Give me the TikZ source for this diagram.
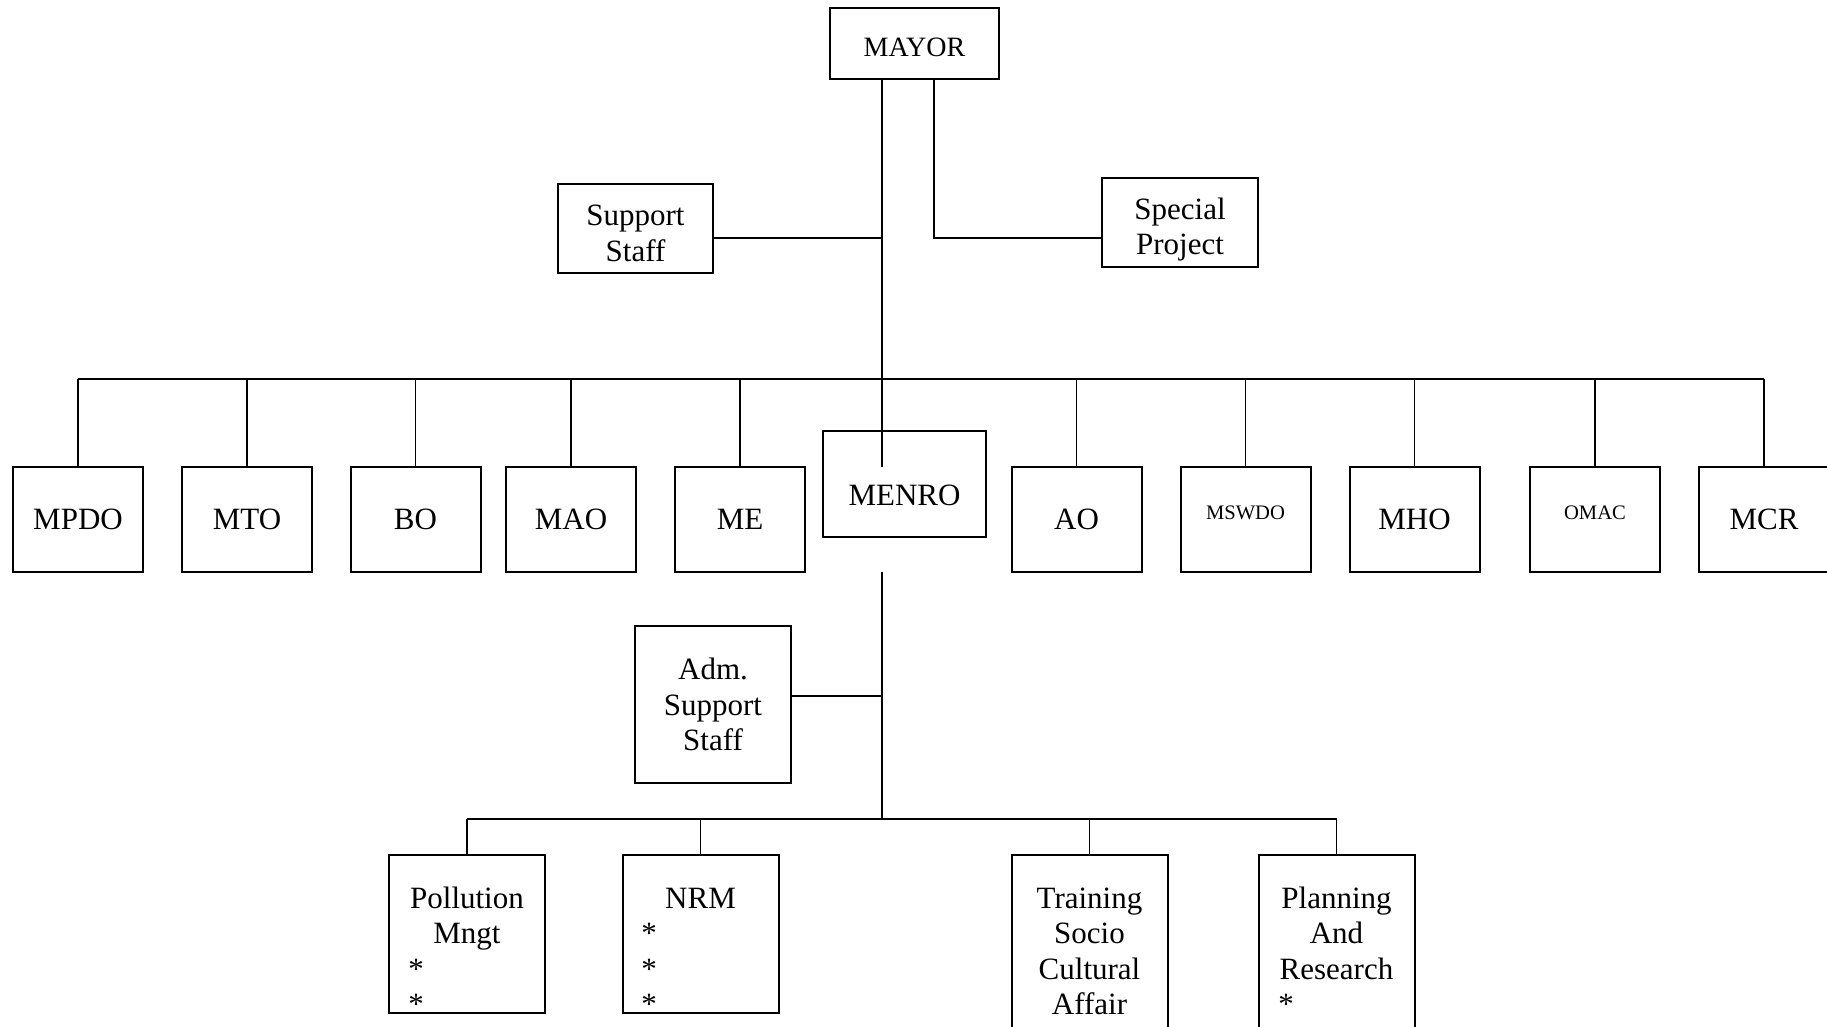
\documentclass[tikz,border=0pt]{standalone}
\usepackage{fontspec}
\setmainfont{Liberation Serif}
\begin{document}
\begin{tikzpicture}[x=0.5pt,y=-0.5pt,
  main node/.style={rectangle,draw,line width=1pt,inner sep=0.,outer sep=0.,align=center,font=\fontsize{15.5}{17.75}\selectfont},
  office node/.style={main node,minimum width=65pt,minimum height=52.5pt},
  unit node/.style={main node,minimum width=78pt,minimum height=79pt},
  text node/.style={inner sep=0.,outer sep=0.,align=center,font=\fontsize{15.5}{17.75}\selectfont},
  small text/.style={inner sep=0.,font=\fontsize{10.3}{12}\selectfont},
  link/.style={line width=0.9pt}]
  \clip (0,0) rectangle (1827,1027);
  % top level
  \node[main node,minimum width=84.5pt,minimum height=35.5pt] (mayor) at (914.5,43.5) {};
  \node[inner sep=0.,font=\fontsize{14}{16}\selectfont] (mayorT) at (914.5,47.5) {MAYOR};
  \node[main node,minimum width=77.5pt,minimum height=44.5pt] (support) at (635.5,228.5) {};
  \node[text node] (supportT) at (635.5,233.5) {Support\\Staff};
  \node[main node,minimum width=78pt,minimum height=44.5pt] (special) at (1180,222.5) {};
  \node[text node] (specialT) at (1180,229.5) {Special\\Project};
  % offices
  \node[office node] (mpdo) at (78,519.5) {MPDO};
  \node[office node] (mto) at (247,519.5) {MTO};
  \node[office node] (bo) at (415.5,519.5) {BO};
  \node[office node] (mao) at (571,519.5) {MAO};
  \node[office node] (me) at (740,519.5) {ME};
  \node[main node,minimum width=81.5pt,minimum height=53pt] (menro) at (904.5,484) {};
  \node[inner sep=0.,font=\fontsize{15.5}{17.75}\selectfont] (menroT) at (904.5,495) {MENRO};
  \node[office node] (ao) at (1076.5,519.5) {AO};
  \node[office node] (mswdo) at (1245.5,519.5) {};
  \node[small text] (mswdoT) at (1245.5,512.5) {MSWDO};
  \node[office node] (mho) at (1414.5,519.5) {MHO};
  \node[office node] (omac) at (1595,519.5) {};
  \node[small text] (omacT) at (1595,512.5) {OMAC};
  \node[office node] (mcr) at (1764,519.5) {MCR};
  % MENRO units
  \node[unit node,minimum height=78.5pt] (adm) at (713,704.5) {Adm.\\Support\\Staff};
  \node[unit node] (poll) at (467,934) {};
  \node[unit node] (nrm) at (700.5,934) {};
  \node[unit node,minimum height=110pt] (train) at (1089.5,965) {};
  \node[unit node,minimum height=110pt] (plan) at (1336.5,965) {};
  % unit texts (base = last line)
  \node[text node,anchor=base] (pollT) at (467,943.5) {Pollution\\Mngt};
  \node[text node,anchor=base] (pollS) at (416,1014.5) {*\\*};
  \node[text node,anchor=base] (nrmT) at (700.5,908) {NRM};
  \node[text node,anchor=base] (nrmS) at (649,1014.5) {*\\*\\*};
  \node[text node,anchor=base] (trainT) at (1089.5,1014.5) {Training\\Socio\\Cultural\\Affair};
  \node[text node,anchor=base] (planT) at (1336.5,979) {Planning\\And\\Research};
  \node[text node,anchor=base] (planS) at (1286,1014.5) {*};
  % connectors
  \coordinate (staffJ) at (882,238);
  \coordinate (specJ) at (934,238);
  \coordinate (topJ) at (882,379);
  \coordinate (admJ) at (882,696);
  \coordinate (lowJ) at (882,819);
  \draw[link] (mayor.south -| topJ) -- (topJ |- mpdo.north);
  \draw[link] (support.east |- staffJ) -- (staffJ);
  \draw[link] (mayor.south -| specJ) -- (specJ) -- (special.west |- specJ);
  \draw[link] (mpdo.north |- topJ) -- (mcr.north |- topJ);
  \foreach \n in {mpdo,mto,bo,mao,me,ao,mswdo,mho,omac,mcr}
  \draw[link] (\n.north) -- (\n.north |- topJ);
  \draw[link] (topJ |- mpdo.south) -- (lowJ);
  \draw[link] (adm.east |- admJ) -- (admJ);
  \draw[link] (poll.north |- lowJ) -- (plan.north |- lowJ);
  \foreach \n in {poll,nrm,train,plan}
  \draw[link] (\n.north) -- (\n.north |- lowJ);
\end{tikzpicture}
\end{document}
